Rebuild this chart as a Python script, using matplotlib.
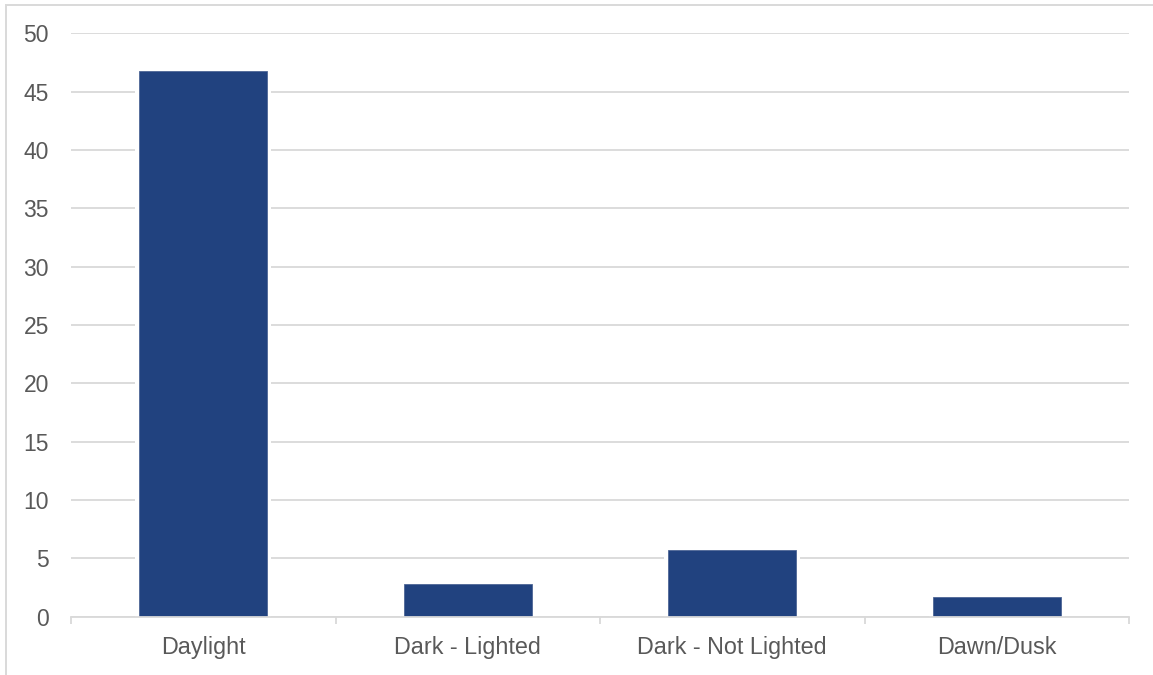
import matplotlib
matplotlib.use('Agg')
import matplotlib.pyplot as plt
from matplotlib.patches import Rectangle
import numpy as np

categories = ['Daylight', 'Dark - Lighted', 'Dark - Not Lighted', 'Dawn/Dusk']
counts = [46.8, 2.8, 5.7, 1.7]
y_ticks = [0, 5, 10, 15, 20, 25, 30, 35, 40, 45, 50]

bar_color = '#21427F'
grid_color = '#D9D9D9'
text_color = '#595959'

plt.rcParams['font.family'] = ['Liberation Sans', 'DejaVu Sans']

fig = plt.figure(figsize=(11.53, 6.75), dpi=100)
ax = fig.add_axes([71 / 1153, 1 - 616.5 / 675, (1129 - 71) / 1153, (616.5 - 33.3) / 675])

x = np.arange(len(categories))
bar_width = 0.484

# white halo so gridlines stop short of the bars
ax.bar(x, counts, width=bar_width + 0.03, color='white', zorder=2)
ax.bar(x, counts, width=bar_width, color=bar_color, edgecolor='#4E6696',
       linewidth=0.6, zorder=3)

ax.set_xlim(-0.5, len(categories) - 0.5)
ax.set_ylim(0, 50)
ax.set_yticks(y_ticks)
ax.set_yticklabels([str(t) for t in y_ticks])
ax.yaxis.grid(True, color=grid_color, linewidth=1.3, zorder=1)
ax.set_axisbelow(True)

ax.set_xticks(x)
ax.set_xticklabels(categories)
ax.set_xticks(np.arange(len(categories) + 1) - 0.5, minor=True)
ax.tick_params(axis='x', which='major', length=0, pad=14, labelsize=16.8, labelcolor=text_color)
ax.tick_params(axis='x', which='minor', length=5, width=1.3, color=grid_color)
ax.tick_params(axis='y', length=0, pad=16, labelsize=16.5, labelcolor=text_color)

for side in ['top', 'right', 'left']:
    ax.spines[side].set_visible(False)
ax.spines['bottom'].set_color(grid_color)
ax.spines['bottom'].set_linewidth(1.3)
ax.spines['bottom'].set_zorder(4)

# outer chart border (runs off the right and bottom edges)
fig.patches.append(Rectangle((6 / 1153, -0.1), 1.1, 1.1 - 5 / 675,
                             transform=fig.transFigure, fill=False,
                             edgecolor=grid_color, linewidth=1.4))

fig.savefig('out.png', dpi=100)
